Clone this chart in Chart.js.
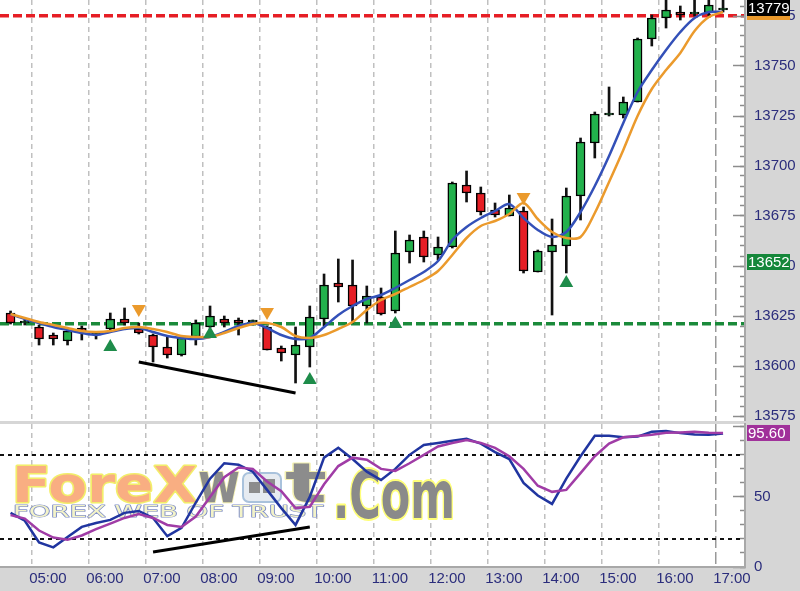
<!DOCTYPE html>
<html>
<head>
<meta charset="utf-8">
<script src="https://cdn.jsdelivr.net/npm/chart.js@4.4.1/dist/chart.umd.min.js"></script>
<style>
  html, body { margin: 0; padding: 0; background: #d6d6d6; }
  #wrap { position: relative; width: 800px; height: 591px; overflow: hidden; }
  #priceCanvas { position: absolute; left: 0; top: 0; }
  #oscCanvas { position: absolute; left: 0; top: 421px; }
</style>
</head>
<body>
<div id="wrap">
  <canvas id="priceCanvas" width="800" height="421"></canvas>
  <canvas id="oscCanvas" width="800" height="170"></canvas>
</div>
<script>
// 15 minute bars
const times = ['04:30','04:45','05:00','05:15','05:30','05:45','06:00','06:15','06:30','06:45',
  '07:00','07:15','07:30','07:45','08:00','08:15','08:30','08:45','09:00','09:15',
  '09:30','09:45','10:00','10:15','10:30','10:45','11:00','11:15','11:30','11:45',
  '12:00','12:15','12:30','12:45','13:00','13:15','13:30','13:45','14:00','14:15',
  '14:30','14:45','15:00','15:15','15:30','15:45','16:00','16:15','16:30','16:45',
  '17:00'];
const hourLabels = ['05:00','06:00','07:00','08:00','09:00','10:00','11:00','12:00','13:00','14:00','15:00','16:00','17:00'];

const open = [13626.5, 13621.5, 13619.5, 13615.5, 13612.5, 13619, 13616, 13618.5, 13623.5, 13618.5,
  13615.5, 13609.5, 13605.5, 13614.5, 13619.5, 13623.5, 13623, 13622, 13619.5, 13609,
  13605.5, 13609.5, 13623.5, 13641.5, 13640.5, 13630, 13634.5, 13627.5, 13657, 13664.5,
  13655.5, 13659.5, 13690.5, 13686.5, 13678, 13675, 13677.5, 13647, 13657, 13660,
  13685, 13711.5, 13725.5, 13725.5, 13732, 13763.5, 13774, 13777, 13776, 13776.5,
  13778];
const high = [13627.5, 13623, 13620.5, 13616.5, 13618, 13620, 13617, 13626.5, 13629, 13621.5,
  13616, 13614.5, 13615, 13623, 13630, 13625, 13624, 13623, 13620, 13610,
  13619.5, 13630, 13646, 13653.5, 13653, 13640, 13639, 13667.5, 13665.5, 13667.5,
  13664.5, 13692, 13697.5, 13689.5, 13681.5, 13685.5, 13679.5, 13658, 13673.5, 13689,
  13714, 13727, 13739.5, 13734.5, 13764, 13775.5, 13785, 13780, 13785, 13785,
  13785];
const low = [13621, 13620.5, 13610.5, 13610.5, 13610.5, 13613, 13613.5, 13617, 13620.5, 13616,
  13602, 13604, 13605, 13610.5, 13619, 13619.5, 13615.5, 13620.5, 13608, 13602.5,
  13591.5, 13599.5, 13620, 13632, 13621.5, 13621.5, 13625.5, 13626.5, 13651.5, 13652,
  13653, 13659, 13682, 13675.5, 13674.5, 13675, 13646.5, 13647, 13625.5, 13646.5,
  13673, 13704, 13725, 13724, 13732, 13760, 13769, 13773, 13775, 13775,
  13777];
const close = [13621.5, 13622, 13613.5, 13613.5, 13617.5, 13617.5, 13616.5, 13623.5, 13621.5, 13616.5,
  13609.5, 13605.5, 13614, 13621.5, 13625, 13621.5, 13621.5, 13622, 13608, 13606.5,
  13610.5, 13624.5, 13640.5, 13639.5, 13630, 13635, 13626, 13656.5, 13663, 13654.5,
  13659.5, 13691.5, 13686.5, 13677, 13675.5, 13679, 13647.5, 13657.5, 13660.5, 13685,
  13712, 13726, 13725.5, 13732, 13763.5, 13774, 13778, 13775.5, 13776.5, 13780.5,
  13778];

// moving averages (blue = fast, orange = slow)
const maFast = [13626, 13623.5, 13621.5, 13619.5, 13618, 13616.5, 13615.5, 13617, 13618.5, 13619,
  13617, 13615, 13614, 13613.5, 13614.5, 13617, 13620, 13621.5, 13619, 13615.5,
  13613.5, 13614, 13619.5, 13625.5, 13630, 13633.5, 13635.5, 13639, 13643, 13647,
  13652.5, 13663, 13669.5, 13674, 13677.5, 13681, 13674, 13668, 13664.5, 13667,
  13677, 13690, 13705, 13721.5, 13737, 13748, 13758, 13767, 13774, 13777,
  13777];
const maSlow = [13626, 13624, 13622, 13620.5, 13619, 13617.5, 13617, 13617.5, 13619, 13619.5,
  13618.5, 13617, 13615, 13614.5, 13614.5, 13616.5, 13619, 13621, 13621.5, 13619.5,
  13615, 13614, 13615.5, 13618.5, 13622, 13628, 13633, 13636, 13639.5, 13643,
  13647.5, 13655.5, 13664, 13670, 13672.5, 13676, 13681.5, 13673.5, 13667, 13664,
  13664.5, 13676.5, 13692, 13708, 13725, 13738.5, 13748, 13756.5, 13767.5, 13774.5,
  13777];

// signal arrows
const buyIdx = [7, 14, 21, 27, 39];
const buyPrice = [13609.5, 13616, 13593, 13621, 13641.5];
const sellIdx = [9, 18, 36];
const sellPrice = [13628.5, 13627, 13684.5];

const supportLevel = 13621;
const resistLevel = 13775;
const priceTrendIdx = [9, 20];
const priceTrendVal = [13602, 13586.5];
const lastPrice = 13779;
const markPrice = 13652;

// oscillator
const oscFast = [38.6, 33, 17.5, 14, 21.4, 28.6, 31.4, 33.6, 38.6, 40,
  35, 22, 28, 46, 63, 74, 73, 68, 55, 42,
  30, 50, 78, 85, 77, 68, 62, 70, 80, 87,
  88.5, 90, 91.4, 88, 82, 77, 60, 51, 45, 63,
  79, 93.6, 93.6, 92.5, 93, 96.5, 97, 95.5, 94.5, 94.3,
  95.3];
const oscSlow = [37, 34.5, 26, 21, 19.5, 22.5, 27, 31, 35, 37.8,
  35, 30, 28.5, 36, 50, 64, 71, 70, 61, 54,
  42, 43, 59, 72, 78, 76.5, 70, 68.5, 74, 80,
  86, 88.5, 90.5, 88.5, 85, 79, 70, 58, 53.6, 55,
  67, 79, 88, 92.5, 93.5, 94.3, 95.7, 96, 96.4, 95.8,
  95.6];
const oscLevels = [20, 80];
const oscTrendIdx = [10, 21];
const oscTrendVal = [10.7, 28.6];
const lastOsc = 95.60;

const navy = '#2b2d7c';
const green = '#22b14c';
const red = '#e61e25';
const blue = '#3350b8';
const orange = '#eb9a2c';

Chart.defaults.font.family = "'Liberation Sans', Arial, sans-serif";
Chart.defaults.font.size = 15;
Chart.defaults.color = navy;
Chart.defaults.animation = false;
Chart.defaults.events = [];
Chart.defaults.plugins.legend.display = false;
Chart.defaults.plugins.tooltip.enabled = false;

const lastHourEdge = times.indexOf('17:00') - 0.5;

function xy(values, idx) {
  return values.map((v, i) => ({ x: idx ? idx[i] : i, y: v }));
}

function timeAxis(showLabels) {
  return {
    type: 'linear',
    min: -0.74,
    max: 51.54,
    offset: false,
    afterBuildTicks: s => { s.ticks = hourLabels.map(h => ({ value: times.indexOf(h) - 0.5 })); },
    afterFit: s => { s.height = showLabels ? 24 : 0; s.paddingLeft = 0; s.paddingRight = 0; },
    ticks: {
      display: showLabels, autoSkip: false, maxRotation: 0, labelOffset: 16, padding: 3,
      callback: v => times[v + 0.5]
    },
    grid: {
      offset: false, drawTicks: false, lineWidth: 1.5,
      color: c => (c.tick && c.tick.value === lastHourEdge) ? '#999999' : '#c0c0c0'
    },
    border: {
      display: showLabels, color: '#a8a8a8', width: 2,
      dash: c => (c.tick && c.tick.value === lastHourEdge) ? [12, 4] : [5, 4]
    }
  };
}

function valueAxes(min, max, majorTicks, minorStep, levels, levelColor, levelWidth, levelDash, labelCb) {
  return {
    yLevels: {
      type: 'linear', position: 'right', weight: 0, min, max,
      afterBuildTicks: s => { s.ticks = levels.map(v => ({ value: v })); },
      afterFit: s => { s.width = 0; s.paddingTop = 0; s.paddingBottom = 0; },
      ticks: { display: false },
      grid: { drawTicks: false, color: levelColor, lineWidth: levelWidth },
      border: { display: false, dash: levelDash }
    },
    yMinor: {
      type: 'linear', position: 'right', weight: 1, min, max,
      afterFit: s => { s.width = 0; s.paddingTop = 0; s.paddingBottom = 0; },
      ticks: { display: false, stepSize: minorStep, includeBounds: false },
      grid: { drawOnChartArea: false, tickLength: -5, tickColor: '#8c8c8c', tickWidth: 1.5 },
      border: { display: false }
    },
    y: {
      type: 'linear', position: 'right', weight: 2, min, max, beginAtZero: false,
      afterBuildTicks: s => { s.ticks = majorTicks.map(v => ({ value: v })); },
      afterFit: s => { s.width = 55; s.paddingTop = 0; s.paddingBottom = 0; },
      ticks: { padding: 21, callback: labelCb },
      grid: { drawOnChartArea: false, tickLength: -12, tickColor: '#8c8c8c', tickWidth: 1.5 },
      border: { color: '#a8a8a8', width: 2 }
    }
  };
}

const plotBg = {
  id: 'plotBg',
  beforeDraw(chart) {
    const a = chart.chartArea, c = chart.ctx;
    c.save();
    c.fillStyle = '#ffffff';
    c.fillRect(a.left, a.top, a.right - a.left, a.bottom - a.top);
    c.restore();
  }
};

function valueBox(chart, value, text, bg) {
  const s = chart.scales.y, c = chart.ctx;
  const yc = s.getPixelForValue(value);
  c.save();
  c.fillStyle = bg;
  c.fillRect(s.left + 2, yc - 8, 43, 16);
  c.fillStyle = '#ffffff';
  c.font = "15px 'Liberation Sans', Arial, sans-serif";
  c.textBaseline = 'middle';
  c.fillText(text, s.left + 3, yc + 1);
  c.restore();
}

const priceBoxes = {
  id: 'priceBoxes',
  afterDraw(chart) {
    valueBox(chart, maSlow[maSlow.length - 1], '', orange);
    valueBox(chart, lastPrice, String(lastPrice), '#000000');
    valueBox(chart, markPrice, String(markPrice), '#15873a');
  }
};

const oscBoxes = {
  id: 'oscBoxes',
  afterDraw(chart) {
    valueBox(chart, lastOsc, lastOsc.toFixed(2), '#a0309a');
  }
};

function fitText(c, text, x, base, width, font, fill, stroke, lw) {
  c.save();
  c.font = font;
  const w = c.measureText(text).width;
  c.translate(x, base);
  c.scale(width / w, 1);
  c.lineJoin = 'round';
  if (stroke) { c.lineWidth = lw; c.strokeStyle = stroke; c.strokeText(text, 0, 0); }
  if (fill) { c.fillStyle = fill; c.fillText(text, 0, 0); }
  c.restore();
}

const watermark = {
  id: 'watermark',
  beforeDatasetsDraw(chart) {
    const c = chart.ctx;
    fitText(c, 'ForeX', 12, 81, 185, "bold 50px 'DejaVu Sans'", '#f9ae82', '#f2ee6a', 3);
    fitText(c, 'w', 198, 81, 42, "bold 56px 'DejaVu Sans'", '#8c8c8c', '#f3f0b0', 2);
    c.save();
    c.beginPath();
    c.roundRect(243, 52, 38, 29, 6);
    c.fillStyle = '#e6ebf1';
    c.fill();
    c.lineWidth = 2;
    c.strokeStyle = '#a9c2dc';
    c.stroke();
    c.fillStyle = '#8c8c8c';
    c.fillRect(249, 61, 11, 11);
    c.fillRect(263, 58, 12, 14);
    c.restore();
    fitText(c, 't', 285, 81, 42, "bold 56px 'DejaVu Sans'", '#8c8c8c', '#f3f0b0', 2);
    fitText(c, '.Com', 333, 97, 122, "bold 66px 'DejaVu Sans'", '#8a8a8a', '#ffff78', 4);
    fitText(c, 'FOREX WEB OF TRUST', 13, 96, 310, "16px 'DejaVu Sans'", '#f3f3c8', '#7f8ec8', 1.2);
  }
};

// price panel
const wickData = high.map((h, i) => ({ x: i, y: [low[i], h] }));
const bodyData = open.map((o, i) => ({ x: i, y: [o, close[i]] }));
const bodyColors = open.map((o, i) => close[i] >= o ? green : red);

new Chart(document.getElementById('priceCanvas'), {
  type: 'bar',
  data: {
    datasets: [
      { type: 'line', order: 0, data: xy(buyPrice, buyIdx), showLine: false,
        pointStyle: 'triangle', pointRadius: 8, pointBorderWidth: 0, pointBackgroundColor: '#1e8c4a' },
      { type: 'line', order: 0, data: xy(sellPrice, sellIdx), showLine: false,
        pointStyle: 'triangle', pointRotation: 180, pointRadius: 8, pointBorderWidth: 0, pointBackgroundColor: orange },
      { type: 'line', order: 1, data: xy(priceTrendVal, priceTrendIdx), borderColor: '#000000', borderWidth: 3, pointRadius: 0 },
      { type: 'line', order: 2, data: xy(maSlow), borderColor: orange, borderWidth: 2.5, pointRadius: 0, tension: 0.3 },
      { type: 'line', order: 3, data: xy(maFast), borderColor: blue, borderWidth: 2.5, pointRadius: 0, tension: 0.3 },
      { order: 4, data: bodyData, grouped: false, barThickness: 9, minBarLength: 2,
        backgroundColor: bodyColors, borderColor: '#000000', borderWidth: 1.5, borderSkipped: false },
      { order: 5, data: wickData, grouped: false, barThickness: 2, backgroundColor: '#111111', borderWidth: 0 }
    ]
  },
  options: {
    responsive: false,
    devicePixelRatio: 1,
    layout: { padding: 0, autoPadding: false },
    scales: Object.assign(
      { x: timeAxis(false) },
      valueAxes(13572.5, 13783,
        [13575, 13600, 13625, 13650, 13675, 13700, 13725, 13750, 13775], 5,
        [supportLevel, resistLevel],
        c => (c.tick && c.tick.value === resistLevel) ? red : '#1a8a3a', 3.5, [9, 4])
    )
  },
  plugins: [plotBg, priceBoxes]
});

// oscillator panel
new Chart(document.getElementById('oscCanvas'), {
  type: 'line',
  data: {
    datasets: [
      { order: 0, data: xy(oscTrendVal, oscTrendIdx), borderColor: '#000000', borderWidth: 3, pointRadius: 0 },
      { order: 1, data: xy(oscSlow), borderColor: '#a03ca6', borderWidth: 2.5, pointRadius: 0 },
      { order: 2, data: xy(oscFast), borderColor: '#2035a0', borderWidth: 2.5, pointRadius: 0 }
    ]
  },
  options: {
    responsive: false,
    devicePixelRatio: 1,
    layout: { padding: { top: 3 }, autoPadding: false },
    scales: Object.assign(
      { x: timeAxis(true) },
      valueAxes(0, 102, [0, 50, 100], 10, oscLevels, '#111111', 2, [4, 4],
        v => v === 100 ? '' : String(v))
    )
  },
  plugins: [plotBg, watermark, oscBoxes]
});
</script>
</body>
</html>
